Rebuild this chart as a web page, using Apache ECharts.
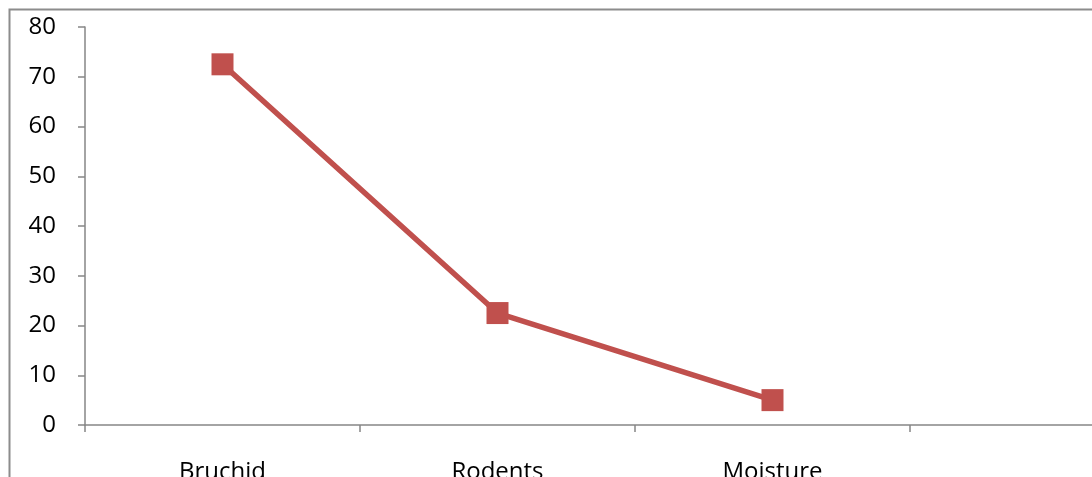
<!DOCTYPE html>
<html>
<head>
<meta charset="utf-8">
<style>
  html, body { margin: 0; padding: 0; background: #fff; overflow: hidden; width: 1092px; height: 477px; }
  #chart { width: 1300px; height: 520px; }
</style>
<script src="https://cdn.jsdelivr.net/npm/echarts@6/dist/echarts.min.js"></script>
</head>
<body>
<div id="chart"></div>
<script>
// Causes of grain loss (%)
const categories = ['Bruchid', 'Rodents', 'Moisture', ''];
const lossValues = [72.5, 22.5, 5, null];
const yTicks = { min: 0, max: 80, interval: 10 };

const chart = echarts.init(document.getElementById('chart'), null, { renderer: 'canvas' });
const axisGray = '#868686';
const fontFamily = '"Open Sans", "Liberation Sans", sans-serif';

chart.setOption({
  animation: false,
  graphic: [{
    type: 'rect',
    shape: { x: 9.5, y: 9.5, width: 1400, height: 700 },
    style: { fill: 'none', stroke: '#8c8c8c', lineWidth: 2 },
    silent: true
  }],
  grid: { left: 85, top: 27, right: 115, bottom: 95, containLabel: false },
  xAxis: {
    type: 'category',
    data: categories,
    boundaryGap: true,
    axisLine: { lineStyle: { color: axisGray, width: 1.5 } },
    axisTick: { show: true, length: 7, lineStyle: { color: axisGray, width: 1.5 } },
    axisLabel: { color: '#000', fontSize: 24, fontFamily: fontFamily, margin: 35, interval: 0 },
    splitLine: { show: false }
  },
  yAxis: {
    type: 'value',
    min: yTicks.min,
    max: yTicks.max,
    interval: yTicks.interval,
    axisLine: { show: true, lineStyle: { color: axisGray, width: 1.5 } },
    axisTick: { show: true, length: 7, lineStyle: { color: axisGray, width: 1.5 } },
    axisLabel: { color: '#000', fontSize: 24, fontFamily: fontFamily, margin: 29 },
    splitLine: { show: false }
  },
  series: [{
    type: 'line',
    data: lossValues,
    symbol: 'rect',
    symbolSize: 22,
    lineStyle: { color: '#c0504d', width: 5.5 },
    itemStyle: { color: '#c0504d', borderColor: '#c0504d', borderWidth: 0 }
  }]
});
</script>
</body>
</html>
